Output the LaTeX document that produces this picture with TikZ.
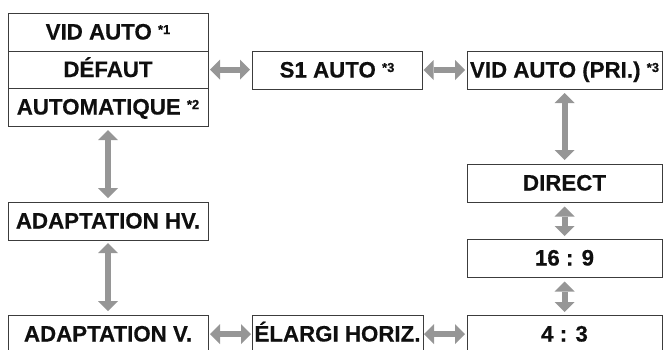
\documentclass[tikz,border=0pt]{standalone}
\usepackage{fontspec}
\setmainfont{Liberation Sans}
\newfontfamily\boxfont[FakeBold=0.4]{Liberation Sans Bold}
\usetikzlibrary{arrows.meta}
\definecolor{arrowgray}{RGB}{150,150,150}
\definecolor{boxline}{RGB}{60,60,60}
\definecolor{textblack}{RGB}{15,15,15}
\newcommand{\supmark}[1]{\raisebox{5.5pt}{\fontsize{13}{13}\selectfont #1}}
\tikzset{
  box/.style={draw=boxline, line width=0.9pt, inner sep=0pt, outer sep=0pt,
    minimum height=38pt, text=textblack,
    font=\boxfont\fontsize{22.3}{24}\selectfont,
    text height=15pt, text depth=0pt},
  lbox/.style={box, minimum width=200pt},
  rbox/.style={box, minimum width=195pt},
  mbox/.style={box, minimum width=170pt},
  dbl/.style={draw=arrowgray, line width=6pt,
    {Triangle[width=20pt,length=10pt,line width=0pt]}-{Triangle[width=20pt,length=10pt,line width=0pt]}}
}
\begin{document}
\begin{tikzpicture}[x=1pt,y=-1pt]
\useasboundingbox (0,0) rectangle (663,349);
\clip (0,0) rectangle (663,349);
% left column
\node[lbox] (vid) at (108,32) {VID AUTO \supmark{*1}};
\node[lbox, minimum height=37pt] (def) at (108,69.5) {DÉFAUT};
\node[lbox] (aut) at (108,107) {AUTOMATIQUE \supmark{*2}};
\node[lbox] (hv) at (108,221) {ADAPTATION HV.};
\node[lbox] (av) at (108,334) {ADAPTATION V.};
% middle
\node[mbox] (s1) at (337,70) {S1 AUTO \supmark{*3}};
\node[mbox, minimum width=171pt] (el) at (337.5,334) {ÉLARGI HORIZ.};
% right column
\node[rbox] (vp) at (564.5,70) {VID AUTO (PRI.) \supmark{*3}};
\node[rbox] (dir) at (564.5,183) {DIRECT};
\node[rbox] (r169) at (564.5,258) {16 : 9};
\node[rbox] (r43) at (564.5,334) {4 : 3};
% arrows
\draw[dbl, shorten <=2pt, shorten >=2pt] (def.east) -- (def.east -| s1.west);
\draw[dbl, shorten <=1.5pt, shorten >=2pt] (s1.east) -- (vp.west);
\draw[dbl, shorten <=4pt, shorten >=4pt] (aut.south) -- (hv.north);
\draw[dbl, shorten <=3pt, shorten >=4pt] (hv.south) -- (av.north);
\draw[dbl, shorten <=4pt, shorten >=4pt] (vp.south) -- (dir.north);
\draw[dbl, shorten <=4.5pt, shorten >=3pt] (dir.south) -- (r169.north);
\draw[dbl, shorten <=4.5pt, shorten >=3pt] (r169.south) -- (r43.north);
\draw[dbl, shorten <=2pt, shorten >=1pt] (av.east) -- (el.west);
\draw[dbl, shorten <=1pt, shorten >=2pt] (el.east) -- (r43.west);
\end{tikzpicture}
\end{document}
